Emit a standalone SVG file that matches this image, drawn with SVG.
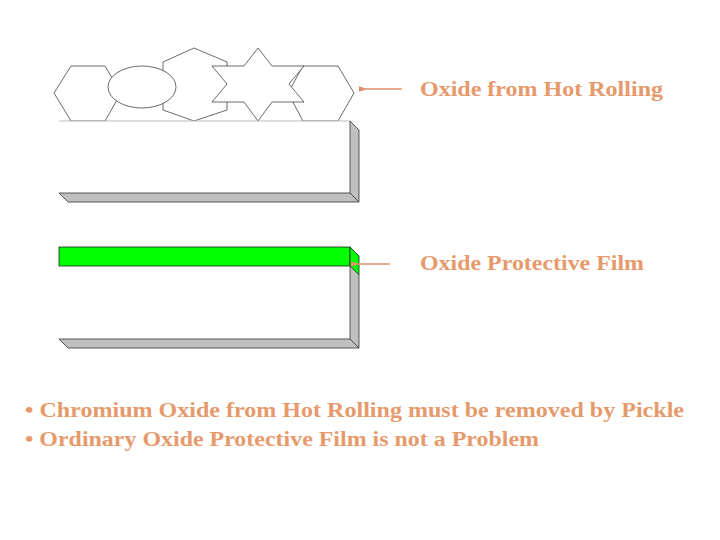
<svg xmlns="http://www.w3.org/2000/svg" width="720" height="540" viewBox="0 0 720 540">
<defs>
<marker id="ah" markerWidth="6" markerHeight="4" refX="1" refY="2" orient="auto"><path d="M6,0 L0,2 L6,4 z" fill="#E0906A"/></marker>
<style>
.t{font-family:"Liberation Serif",serif;font-size:21px;font-weight:bold;fill:#E69A6C}
.g{fill:#fff;stroke:#444;stroke-width:0.8}
.side{fill:#c0c0c0;stroke:#333;stroke-width:0.8}
.c{stroke:#E0906A;stroke-width:1.5;fill:none}
</style>
</defs>
<rect width="720" height="540" fill="#fff"/>
<g id="grains">
<polygon class="g" points="163,62 194,48 227,62 227,110 194,121 163,110"/>
<polygon class="g" points="54,93 71,66 105,66 121,93 105,121 71,121"/>
<ellipse class="g" cx="142" cy="87" rx="34" ry="21"/>
<polygon class="g" points="288,93 303,66 338,66 354,93 338,121 303,121"/>
<polygon class="g" points="258,48 272,66 304,66 289,84 304,102 272,102 258,121 244,102 212,102 227,84 212,66 244,66"/>
</g>
<g id="block1">
<rect x="59" y="121" width="291" height="72" fill="#fff"/>
<line x1="59" y1="121" x2="350" y2="121" stroke="#bbb"/>
<polygon class="side" points="350,121 359,130 359,202 350,193"/>
<polygon class="side" points="59,193 350,193 359,202 68,202"/>
</g>
<g id="film">
<rect x="59" y="247" width="291" height="19" fill="#00ff00" stroke="#222" stroke-width="0.8"/>
<polygon points="350,247 359,256 359,275 350,266" fill="#00ff00" stroke="#222" stroke-width="0.8"/>
</g>
<g id="block2">
<polygon class="side" points="350,266 359,275 359,348 350,339"/>
<polygon class="side" points="59,339 350,339 359,348 68,348"/>
</g>
<g id="connectors">
<line class="c" x1="402" y1="89" x2="366" y2="89" marker-end="url(#ah)"/>
<line class="c" x1="390" y1="264" x2="358" y2="264" marker-end="url(#ah)"/>
</g>
<g id="labels">
<text class="t" x="420" y="96" textLength="243" lengthAdjust="spacingAndGlyphs">Oxide from Hot Rolling</text>
<text class="t" x="420" y="270" textLength="224" lengthAdjust="spacingAndGlyphs">Oxide Protective Film</text>
<text class="t" x="25" y="417" textLength="659" lengthAdjust="spacingAndGlyphs">• Chromium Oxide from Hot Rolling must be removed by Pickle</text>
<text class="t" x="25" y="446" textLength="514" lengthAdjust="spacingAndGlyphs">• Ordinary Oxide Protective Film is not a Problem</text>
</g>
</svg>
